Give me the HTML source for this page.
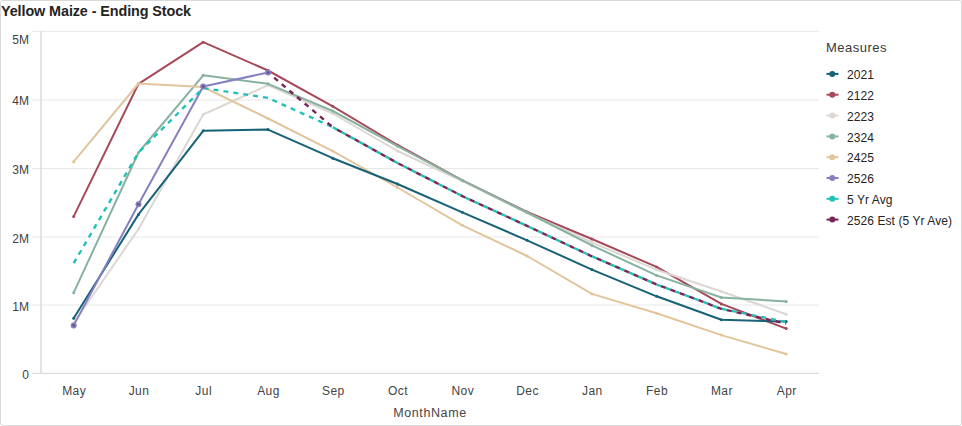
<!DOCTYPE html><html><head><meta charset="utf-8"><style>
html,body{margin:0;padding:0;background:#fff;}
body{width:962px;height:426px;overflow:hidden;position:relative;font-family:"Liberation Sans",sans-serif;}
.frame{position:absolute;left:0;top:0;width:960px;height:424px;border:1px solid #d9d9d9;border-radius:3px;}
.t{position:absolute;white-space:nowrap;line-height:1;}
.title{left:1px;top:3.8px;font-size:14.4px;font-weight:bold;color:#252423;letter-spacing:-0.1px}
.yl{font-size:12px;color:#3f3f3f;text-align:right;width:40px}
.xl{font-size:12px;color:#444;text-align:center;width:60px;letter-spacing:0.45px}
.leg{font-size:12px;color:#252423;left:847px;letter-spacing:0.08px}

</style></head><body><div class="frame"></div>
<svg width="962" height="426" viewBox="0 0 962 426" style="position:absolute;left:0;top:0">
<line x1="32" y1="31.3" x2="819" y2="31.3" stroke="#e8e8e8" stroke-width="1"/>
<line x1="32" y1="100.0" x2="819" y2="100.0" stroke="#e8e8e8" stroke-width="1"/>
<line x1="32" y1="168.5" x2="819" y2="168.5" stroke="#e8e8e8" stroke-width="1"/>
<line x1="32" y1="237.0" x2="819" y2="237.0" stroke="#e8e8e8" stroke-width="1"/>
<line x1="32" y1="305.0" x2="819" y2="305.0" stroke="#e8e8e8" stroke-width="1"/>
<line x1="32" y1="373.3" x2="819" y2="373.3" stroke="#dcdcdc" stroke-width="1.2"/>
<line x1="41" y1="31" x2="41" y2="373.5" stroke="#dedede" stroke-width="1.6"/>
<polyline points="73.7,216.4 138.5,83.8 203.2,42.2 268.0,70.5 332.8,106.3 397.5,145.0 462.3,180.4 527.1,212.0 591.9,239.0 656.6,266.9 721.4,303.9 786.2,328.6" fill="none" stroke="#a64a5a" stroke-width="2" stroke-linejoin="round" stroke-linecap="round"/>
<circle cx="73.7" cy="216.4" r="1.5" fill="#a64a5a"/>
<circle cx="138.5" cy="83.8" r="1.5" fill="#a64a5a"/>
<circle cx="203.2" cy="42.2" r="1.5" fill="#a64a5a"/>
<circle cx="268.0" cy="70.5" r="1.5" fill="#a64a5a"/>
<circle cx="332.8" cy="106.3" r="1.5" fill="#a64a5a"/>
<circle cx="397.5" cy="145.0" r="1.5" fill="#a64a5a"/>
<circle cx="462.3" cy="180.4" r="1.5" fill="#a64a5a"/>
<circle cx="527.1" cy="212.0" r="1.5" fill="#a64a5a"/>
<circle cx="591.9" cy="239.0" r="1.5" fill="#a64a5a"/>
<circle cx="656.6" cy="266.9" r="1.5" fill="#a64a5a"/>
<circle cx="721.4" cy="303.9" r="1.5" fill="#a64a5a"/>
<circle cx="786.2" cy="328.6" r="1.5" fill="#a64a5a"/>
<polyline points="73.7,323.0 138.5,229.0 203.2,114.5 268.0,85.2 332.8,113.5 397.5,151.0 462.3,181.0 527.1,213.0 591.9,242.5 656.6,269.7 721.4,291.5 786.2,314.2" fill="none" stroke="#dcd7d3" stroke-width="2" stroke-linejoin="round" stroke-linecap="round"/>
<circle cx="73.7" cy="323.0" r="1.5" fill="#dcd7d3"/>
<circle cx="138.5" cy="229.0" r="1.5" fill="#dcd7d3"/>
<circle cx="203.2" cy="114.5" r="1.5" fill="#dcd7d3"/>
<circle cx="268.0" cy="85.2" r="1.5" fill="#dcd7d3"/>
<circle cx="332.8" cy="113.5" r="1.5" fill="#dcd7d3"/>
<circle cx="397.5" cy="151.0" r="1.5" fill="#dcd7d3"/>
<circle cx="462.3" cy="181.0" r="1.5" fill="#dcd7d3"/>
<circle cx="527.1" cy="213.0" r="1.5" fill="#dcd7d3"/>
<circle cx="591.9" cy="242.5" r="1.5" fill="#dcd7d3"/>
<circle cx="656.6" cy="269.7" r="1.5" fill="#dcd7d3"/>
<circle cx="721.4" cy="291.5" r="1.5" fill="#dcd7d3"/>
<circle cx="786.2" cy="314.2" r="1.5" fill="#dcd7d3"/>
<polyline points="73.7,292.7 138.5,152.5 203.2,75.3 268.0,83.8 332.8,111.0 397.5,146.2 462.3,180.4 527.1,212.5 591.9,245.4 656.6,275.4 721.4,297.5 786.2,301.4" fill="none" stroke="#88b2a0" stroke-width="2" stroke-linejoin="round" stroke-linecap="round"/>
<circle cx="73.7" cy="292.7" r="1.5" fill="#88b2a0"/>
<circle cx="138.5" cy="152.5" r="1.5" fill="#88b2a0"/>
<circle cx="203.2" cy="75.3" r="1.5" fill="#88b2a0"/>
<circle cx="268.0" cy="83.8" r="1.5" fill="#88b2a0"/>
<circle cx="332.8" cy="111.0" r="1.5" fill="#88b2a0"/>
<circle cx="397.5" cy="146.2" r="1.5" fill="#88b2a0"/>
<circle cx="462.3" cy="180.4" r="1.5" fill="#88b2a0"/>
<circle cx="527.1" cy="212.5" r="1.5" fill="#88b2a0"/>
<circle cx="591.9" cy="245.4" r="1.5" fill="#88b2a0"/>
<circle cx="656.6" cy="275.4" r="1.5" fill="#88b2a0"/>
<circle cx="721.4" cy="297.5" r="1.5" fill="#88b2a0"/>
<circle cx="786.2" cy="301.4" r="1.5" fill="#88b2a0"/>
<polyline points="73.7,161.7 138.5,83.5 203.2,87.0 268.0,118.5 332.8,151.1 397.5,187.5 462.3,225.3 527.1,256.0 591.9,293.9 656.6,313.2 721.4,335.1 786.2,354.0" fill="none" stroke="#e2c59c" stroke-width="2" stroke-linejoin="round" stroke-linecap="round"/>
<circle cx="73.7" cy="161.7" r="1.5" fill="#e2c59c"/>
<circle cx="138.5" cy="83.5" r="1.5" fill="#e2c59c"/>
<circle cx="203.2" cy="87.0" r="1.5" fill="#e2c59c"/>
<circle cx="268.0" cy="118.5" r="1.5" fill="#e2c59c"/>
<circle cx="332.8" cy="151.1" r="1.5" fill="#e2c59c"/>
<circle cx="397.5" cy="187.5" r="1.5" fill="#e2c59c"/>
<circle cx="462.3" cy="225.3" r="1.5" fill="#e2c59c"/>
<circle cx="527.1" cy="256.0" r="1.5" fill="#e2c59c"/>
<circle cx="591.9" cy="293.9" r="1.5" fill="#e2c59c"/>
<circle cx="656.6" cy="313.2" r="1.5" fill="#e2c59c"/>
<circle cx="721.4" cy="335.1" r="1.5" fill="#e2c59c"/>
<circle cx="786.2" cy="354.0" r="1.5" fill="#e2c59c"/>
<polyline points="73.7,318.3 138.5,214.4 203.2,130.8 268.0,129.6 332.8,158.2 397.5,184.0 462.3,212.3 527.1,240.3 591.9,269.6 656.6,296.3 721.4,319.7 786.2,321.6" fill="none" stroke="#176276" stroke-width="2" stroke-linejoin="round" stroke-linecap="round"/>
<circle cx="73.7" cy="318.3" r="1.5" fill="#176276"/>
<circle cx="138.5" cy="214.4" r="1.5" fill="#176276"/>
<circle cx="203.2" cy="130.8" r="1.5" fill="#176276"/>
<circle cx="268.0" cy="129.6" r="1.5" fill="#176276"/>
<circle cx="332.8" cy="158.2" r="1.5" fill="#176276"/>
<circle cx="397.5" cy="184.0" r="1.5" fill="#176276"/>
<circle cx="462.3" cy="212.3" r="1.5" fill="#176276"/>
<circle cx="527.1" cy="240.3" r="1.5" fill="#176276"/>
<circle cx="591.9" cy="269.6" r="1.5" fill="#176276"/>
<circle cx="656.6" cy="296.3" r="1.5" fill="#176276"/>
<circle cx="721.4" cy="319.7" r="1.5" fill="#176276"/>
<circle cx="786.2" cy="321.6" r="1.5" fill="#176276"/>
<polyline points="73.7,325.4 138.5,204.2 203.2,86.6 268.0,72.5" fill="none" stroke="#8680c0" stroke-width="2" stroke-linejoin="round" stroke-linecap="round"/>
<polyline points="73.7,263.2 138.5,152.5 203.2,88.1 268.0,97.9 332.8,127.2" fill="none" stroke="#1fc2b5" stroke-width="2.4" stroke-dasharray="5 5" stroke-linejoin="round"/>
<polyline points="332.8,127.2 397.5,163.0 462.3,196.1 527.1,225.9 591.9,256.3 656.6,284.5 721.4,308.8 786.2,322.0" fill="none" stroke="#1fc2b5" stroke-width="2.4" stroke-dasharray="5 5" stroke-linejoin="round"/>
<polyline points="268.0,72.5 332.8,127.2" fill="none" stroke="#7a2557" stroke-width="2.4" stroke-dasharray="5 5" stroke-dashoffset="2" stroke-linejoin="round"/>
<polyline points="332.8,127.2 397.5,163.0 462.3,196.1 527.1,225.9 591.9,256.3 656.6,284.5 721.4,308.8 786.2,323.7" fill="none" stroke="#7a2557" stroke-width="2.4" stroke-dasharray="5 5" stroke-dashoffset="5" stroke-linejoin="round"/>
<circle cx="73.7" cy="325.4" r="3" fill="#8680c0"/>
<circle cx="73.7" cy="325.4" r="1.3" fill="#6e4a88"/>
<circle cx="138.5" cy="204.2" r="3" fill="#8680c0"/>
<circle cx="138.5" cy="204.2" r="1.3" fill="#6e4a88"/>
<circle cx="203.2" cy="86.6" r="3" fill="#8680c0"/>
<circle cx="203.2" cy="86.6" r="1.3" fill="#6e4a88"/>
<circle cx="268.0" cy="72.5" r="3" fill="#8680c0"/>
<circle cx="268.0" cy="72.5" r="1.3" fill="#6e4a88"/>
<line x1="826.5" y1="73.9" x2="838.5" y2="73.9" stroke="#176276" stroke-width="2"/>
<circle cx="832.3" cy="73.9" r="3" fill="#176276"/>
<line x1="826.5" y1="94.7" x2="838.5" y2="94.7" stroke="#a64a5a" stroke-width="2"/>
<circle cx="832.3" cy="94.7" r="3" fill="#a64a5a"/>
<line x1="826.5" y1="115.5" x2="838.5" y2="115.5" stroke="#dcd7d3" stroke-width="2"/>
<circle cx="832.3" cy="115.5" r="3" fill="#dcd7d3"/>
<line x1="826.5" y1="136.4" x2="838.5" y2="136.4" stroke="#88b2a0" stroke-width="2"/>
<circle cx="832.3" cy="136.4" r="3" fill="#88b2a0"/>
<line x1="826.5" y1="157.2" x2="838.5" y2="157.2" stroke="#e2c59c" stroke-width="2"/>
<circle cx="832.3" cy="157.2" r="3" fill="#e2c59c"/>
<line x1="826.5" y1="178.0" x2="838.5" y2="178.0" stroke="#8680c0" stroke-width="2"/>
<circle cx="832.3" cy="178.0" r="3" fill="#8680c0"/>
<line x1="826.5" y1="198.8" x2="838.5" y2="198.8" stroke="#1fc2b5" stroke-width="2"/>
<circle cx="832.3" cy="198.8" r="3" fill="#1fc2b5"/>
<line x1="826.5" y1="219.6" x2="838.5" y2="219.6" stroke="#7a2557" stroke-width="2"/>
<circle cx="832.3" cy="219.6" r="3" fill="#7a2557"/>
</svg>
<div class="t title">Yellow Maize - Ending Stock</div>
<div class="t yl" style="left:-11px;top:33.8px">5M</div>
<div class="t yl" style="left:-11px;top:95.3px">4M</div>
<div class="t yl" style="left:-11px;top:163.9px">3M</div>
<div class="t yl" style="left:-11px;top:233.0px">2M</div>
<div class="t yl" style="left:-11px;top:301.0px">1M</div>
<div class="t yl" style="left:-11px;top:369.0px">0</div>
<div class="t xl" style="left:44.2px;top:385px">May</div>
<div class="t xl" style="left:109.0px;top:385px">Jun</div>
<div class="t xl" style="left:173.7px;top:385px">Jul</div>
<div class="t xl" style="left:238.5px;top:385px">Aug</div>
<div class="t xl" style="left:303.3px;top:385px">Sep</div>
<div class="t xl" style="left:368.0px;top:385px">Oct</div>
<div class="t xl" style="left:432.8px;top:385px">Nov</div>
<div class="t xl" style="left:497.6px;top:385px">Dec</div>
<div class="t xl" style="left:562.4px;top:385px">Jan</div>
<div class="t xl" style="left:627.1px;top:385px">Feb</div>
<div class="t xl" style="left:691.9px;top:385px">Mar</div>
<div class="t xl" style="left:756.7px;top:385px">Apr</div>
<div class="t xl" style="left:390px;top:407px;width:80px;font-size:12.5px;letter-spacing:0.6px;color:#484644">MonthName</div>
<div class="t leg" style="left:826px;top:41px;font-size:13px;color:#3a3a3a;letter-spacing:0.5px">Measures</div>
<div class="t leg" style="top:69.1px">2021</div>
<div class="t leg" style="top:89.9px">2122</div>
<div class="t leg" style="top:110.7px">2223</div>
<div class="t leg" style="top:131.6px">2324</div>
<div class="t leg" style="top:152.4px">2425</div>
<div class="t leg" style="top:173.2px">2526</div>
<div class="t leg" style="top:194.0px">5 Yr Avg</div>
<div class="t leg" style="top:214.8px">2526 Est (5 Yr Ave)</div>
</body></html>
